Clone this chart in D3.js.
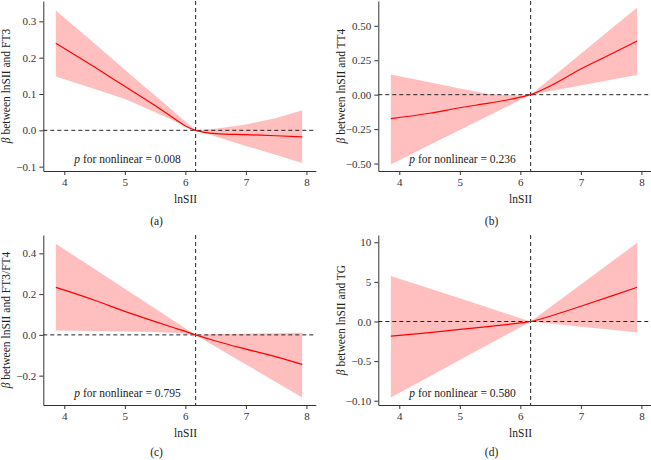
<!DOCTYPE html>
<html>
<head>
<meta charset="utf-8">
<script src="https://cdn.jsdelivr.net/npm/d3@7"></script>
<style>
  body { margin: 0; background: #fff; }
  svg { display: block; }
</style>
</head>
<body>
<div id="chart"></div>
<script>
// lnSII grid used for the fitted curves (same for all four panels)
const lnSII = [3.86, 4.5, 5, 5.5, 5.8, 6.0, 6.17, 6.5, 7, 7.5, 7.93];
const cutoff = 6.17;
const xTicks = [4, 5, 6, 7, 8];

// (a) FT3
const fitA   = [0.24, 0.174, 0.121, 0.068, 0.034, 0.012, 0, -0.009, -0.012, -0.015, -0.018];
const upperA = [0.33, 0.239, 0.167, 0.096, 0.053, 0.024, 0, 0.004, 0.016, 0.034, 0.055];
const lowerA = [0.148, 0.114, 0.086, 0.05, 0.027, 0.011, 0, -0.017, -0.043, -0.068, -0.09];
const ticksA = [-0.1, 0, 0.1, 0.2, 0.3];
const tickLabelsA = ["\u22120.1", "0.0", "0.1", "0.2", "0.3"];

// (b) TT4
const fitB   = [-0.174, -0.135, -0.095, -0.06, -0.037, -0.018, 0, 0.065, 0.187, 0.295, 0.39];
const upperB = [0.147, 0.09, 0.045, 0.003, -0.003, -0.004, 0, 0.118, 0.298, 0.478, 0.632];
const lowerB = [-0.506, -0.366, -0.256, -0.147, -0.082, -0.037, 0, 0.027, 0.067, 0.108, 0.142];
const ticksB = [-0.5, -0.25, 0, 0.25, 0.5];
const tickLabelsB = ["\u22120.50", "\u22120.25", "0.00", "0.25", "0.50"];

// (c) FT3/FT4
const fitC   = [0.233, 0.17, 0.115, 0.065, 0.036, 0.017, 0, -0.03, -0.07, -0.108, -0.145];
const upperC = [0.447, 0.323, 0.226, 0.129, 0.071, 0.033, 0, 0.004, 0.006, 0.008, 0.01];
const lowerC = [0.021, 0.019, 0.017, 0.014, 0.01, 0.006, 0, -0.058, -0.145, -0.232, -0.307];
const ticksC = [-0.2, 0, 0.2, 0.4];
const tickLabelsC = ["\u22120.2", "0.0", "0.2", "0.4"];

// (d) TG
const fitD   = [-1.86, -1.4, -1.0, -0.62, -0.37, -0.18, 0, 0.7, 1.93, 3.2, 4.33];
const upperD = [5.76, 4.16, 2.92, 1.67, 0.92, 0.42, 0, 1.86, 4.68, 7.5, 9.93];
const lowerD = [-9.6, -6.94, -4.86, -2.78, -1.54, -0.71, 0, -0.26, -0.66, -1.05, -1.39];
const ticksD = [-10, -5, 0, 5, 10];
const tickLabelsD = ["\u22120.10", "\u22120.5", "0.0", "5", "10"];

const panels = [
  {tag: "(a)", name: "FT3", fit: fitA, upper: upperA, lower: lowerA, ticks: ticksA, labels: tickLabelsA,
   yDomain: [-0.112, 0.356], p: "0.008", col: 0, row: 0},
  {tag: "(b)", name: "TT4", fit: fitB, upper: upperB, lower: lowerB, ticks: ticksB, labels: tickLabelsB,
   yDomain: [-0.554, 0.68], p: "0.236", col: 1, row: 0},
  {tag: "(c)", name: "FT3/FT4", fit: fitC, upper: upperC, lower: lowerC, ticks: ticksC, labels: tickLabelsC,
   yDomain: [-0.344, 0.49], p: "0.795", col: 0, row: 1},
  {tag: "(d)", name: "TG", fit: fitD, upper: upperD, lower: lowerD, ticks: ticksD, labels: tickLabelsD,
   yDomain: [-10.54, 10.92], p: "0.580", col: 1, row: 1}
];

const W = 651, H = 460;
const plotW = 272.5, plotH = 170;
const lefts = [43.3, 378.3];
const tops = [1, 235];
const tagY = [53.5, 51];
const FONT = "'Liberation Serif', 'DejaVu Serif', serif";
const INK = "#222";

const svg = d3.select("#chart").append("svg")
    .attr("width", W)
    .attr("height", H)
    .attr("font-family", FONT);

panels.forEach(p => {
    const x0 = lefts[p.col], y0 = tops[p.row];
    const g = svg.append("g").attr("transform", `translate(${x0},${y0})`);

    const x = d3.scaleLinear().domain([3.653, 8.155]).range([0, plotW]);
    const y = d3.scaleLinear().domain(p.yDomain).range([plotH, 0]);

    const rows = lnSII.map((v, i) => ({x: v, fit: p.fit[i], lo: p.lower[i], hi: p.upper[i]}));

    // confidence band
    g.append("path")
        .datum(rows)
        .attr("fill", "#ff0000")
        .attr("fill-opacity", 0.25)
        .attr("d", d3.area()
            .x(d => x(d.x))
            .y0(d => y(d.lo))
            .y1(d => y(d.hi)));

    // reference lines
    g.append("line")
        .attr("x1", 0).attr("x2", plotW)
        .attr("y1", y(0)).attr("y2", y(0))
        .attr("stroke", INK)
        .attr("stroke-width", 1)
        .attr("stroke-dasharray", "4,3");

    g.append("line")
        .attr("x1", x(cutoff)).attr("x2", x(cutoff))
        .attr("y1", 0).attr("y2", plotH)
        .attr("stroke", INK)
        .attr("stroke-width", 1)
        .attr("stroke-dasharray", "4,3");

    // fitted curve
    g.append("path")
        .datum(rows)
        .attr("fill", "none")
        .attr("stroke", "#ff0000")
        .attr("stroke-width", 1.2)
        .attr("d", d3.line()
            .curve(d3.curveMonotoneX)
            .x(d => x(d.x))
            .y(d => y(d.fit)));

    // axes
    const xAxis = g.append("g")
        .attr("transform", `translate(0,${plotH})`)
        .call(d3.axisBottom(x).tickValues(xTicks).tickFormat(d3.format("d"))
            .tickSize(4).tickPadding(3).tickSizeOuter(0));

    const yAxis = g.append("g")
        .call(d3.axisLeft(y).tickValues(p.ticks)
            .tickFormat((d, i) => p.labels[i])
            .tickSize(4).tickPadding(3).tickSizeOuter(0));

    [xAxis, yAxis].forEach(a => {
        a.attr("font-family", FONT).attr("font-size", 11);
        a.selectAll("path, line").attr("stroke", "#333");
        a.selectAll("text").attr("fill", "#333");
    });

    // p value note
    const note = g.append("text")
        .attr("x", 31)
        .attr("y", plotH - 8.5)
        .attr("font-size", 11.5)
        .attr("fill", INK);
    note.append("tspan").attr("font-style", "italic").text("p");
    note.append("tspan").text(" for nonlinear = " + p.p);

    // x label
    g.append("text")
        .attr("x", plotW / 2 + 6)
        .attr("y", plotH + 32)
        .attr("text-anchor", "middle")
        .attr("font-size", 11.5)
        .attr("fill", INK)
        .text("lnSII");

    // y label
    const yl = g.append("text")
        .attr("transform", `translate(${-33},${plotH / 2}) rotate(-90)`)
        .attr("text-anchor", "middle")
        .attr("font-size", 11.5)
        .attr("fill", INK);
    yl.append("tspan").attr("font-style", "italic").text("\u03b2");
    yl.append("tspan").text(" between lnSII and " + p.name);

    // panel tag
    g.append("text")
        .attr("x", plotW / 2 - 23)
        .attr("y", plotH + tagY[p.row])
        .attr("text-anchor", "middle")
        .attr("font-size", 11.5)
        .attr("fill", INK)
        .text(p.tag);
});
</script>
</body>
</html>
